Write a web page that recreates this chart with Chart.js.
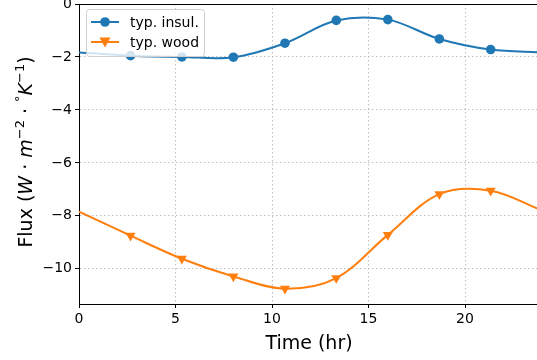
<!DOCTYPE html>
<html>
<head>
<meta charset="utf-8">
<script src="https://cdn.jsdelivr.net/npm/chart.js@4/dist/chart.umd.min.js"></script>
<style>
  body { margin: 0; background: #fff; }
  #wrap { width: 537px; height: 360px; }
</style>
</head>
<body>
<div id="wrap"><canvas id="flux" width="537" height="360"></canvas></div>
<script>
// hours; first and last points are the curve ends (no marker)
var hours = [0, 2.67, 5.33, 8, 10.67, 13.33, 16, 18.67, 21.33, 24];
var insul = [-1.83, -1.95, -2.0, -2.01, -1.48, -0.62, -0.59, -1.32, -1.72, -1.83];
var wood = [-7.84, -8.75, -9.62, -10.29, -10.75, -10.35, -8.72, -7.18, -7.05, -7.8];
var xTicks = [0, 5, 10, 15, 20];
var yTicks = [-10, -8, -6, -4, -2, 0];
var names = ['typ. insul.', 'typ. wood'];

var BLUE = '#1f77b4', ORANGE = '#ff7f0e';
var FONT = '"DejaVu Sans", sans-serif';

function pts(ys) {
    return hours.map(function(h, i) { return { x: h, y: ys[i] }; });
}
function radii(r) {
    return hours.map(function(h, i) { return (i == 0 || i == hours.length - 1) ? 0 : r; });
}
function minus(v) { return String(v).replace('-', '\u2212'); }

// draw marker like the legend sample
function marker(ctx, style, x, y, col) {
    ctx.fillStyle = col;
    ctx.beginPath();
    if (style == 'circle') {
        ctx.arc(x, y, 4.8, 0, Math.PI * 2);
    } else {
        ctx.moveTo(x - 5.5, y - 4.5);
        ctx.lineTo(x + 5.5, y - 4.5);
        ctx.lineTo(x, y + 5.5);
        ctx.closePath();
    }
    ctx.fill();
}

var extras = {
    id: 'extras',
    afterDraw: function(chart) {
        var ctx = chart.ctx, a = chart.chartArea;
        ctx.save();
        // top spine
        ctx.strokeStyle = '#000';
        ctx.lineWidth = 1;
        ctx.beginPath();
        ctx.moveTo(a.left, a.top + 0.5);
        ctx.lineTo(a.right, a.top + 0.5);
        ctx.stroke();

        // legend
        var bx = 86.5, by = 9.5, bw = 118, bh = 47;
        ctx.fillStyle = 'rgba(255,255,255,0.8)';
        ctx.strokeStyle = '#d0d0d0';
        ctx.beginPath();
        ctx.roundRect(bx, by, bw, bh, 3);
        ctx.fill();
        ctx.stroke();
        var rows = [[22, BLUE, 'circle'], [42, ORANGE, 'tri']];
        ctx.font = '14px ' + FONT;
        ctx.textBaseline = 'middle';
        rows.forEach(function(r, i) {
            ctx.strokeStyle = r[1];
            ctx.lineWidth = 2;
            ctx.beginPath();
            ctx.moveTo(91, r[0]);
            ctx.lineTo(119, r[0]);
            ctx.stroke();
            marker(ctx, r[2], 105, r[0], r[1]);
            ctx.fillStyle = '#000';
            ctx.fillText(names[i], 130, r[0] + 1);
        });

        // x title
        ctx.font = '19px ' + FONT;
        ctx.textAlign = 'center';
        ctx.textBaseline = 'alphabetic';
        ctx.fillText('Time (hr)', 309, 349);

        // y title with italics and superscripts
        var parts = [
            ['Flux (', 'n'], ['W', 'i'], [' \u00b7 ', 'n'], ['m', 'i'], ['\u22122', 's'],
            [' \u00b7 ', 'n'], ['\u00b0', 's'], ['K', 'i'], ['\u22121', 's'], [')', 'n']
        ];
        function fnt(k) {
            if (k == 'i') return 'italic 19px ' + FONT;
            if (k == 's') return '13px ' + FONT;
            return '19px ' + FONT;
        }
        var total = 0;
        parts.forEach(function(p) { ctx.font = fnt(p[1]); total += ctx.measureText(p[0]).width; });
        ctx.translate(32, 152);
        ctx.rotate(-Math.PI / 2);
        ctx.textAlign = 'left';
        var cx = -total / 2;
        parts.forEach(function(p) {
            ctx.font = fnt(p[1]);
            ctx.fillText(p[0], cx, p[1] == 's' ? -8 : 0);
            cx += ctx.measureText(p[0]).width;
        });
        ctx.restore();
    }
};

var tickFont = { family: FONT, size: 14 };

new Chart(document.getElementById('flux').getContext('2d'), {
    type: 'line',
    data: {
        datasets: [{
            label: names[0],
            data: pts(insul),
            borderColor: BLUE,
            backgroundColor: BLUE,
            borderWidth: 2,
            pointRadius: radii(4.8),
            pointStyle: 'circle',
            pointBorderWidth: 0,
            tension: 0.35
        }, {
            label: names[1],
            data: pts(wood),
            borderColor: ORANGE,
            backgroundColor: ORANGE,
            borderWidth: 2,
            pointRadius: radii(5.8),
            pointStyle: 'triangle',
            pointRotation: 180,
            pointBorderWidth: 0,
            tension: 0.35
        }]
    },
    options: {
        responsive: false,
        animation: false,
        layout: { padding: { top: 4, right: 0, left: 0, bottom: 0 } },
        plugins: { legend: { display: false }, tooltip: { enabled: false } },
        scales: {
            x: {
                type: 'linear',
                min: 0,
                max: 23.73,
                afterBuildTicks: function(s) { s.ticks = xTicks.map(function(v) { return { value: v }; }); },
                afterFit: function(s) { s.height = 56; s.paddingLeft = 0; s.paddingRight = 0; },
                ticks: { color: '#000', font: tickFont, padding: 3, maxRotation: 0, callback: minus },
                grid: { color: '#b0b0b0', lineWidth: 0.8, tickColor: '#000', tickLength: 4, tickWidth: 1 },
                border: { color: '#000', width: 1, dash: [1.5, 2.5] }
            },
            y: {
                min: -11.33,
                max: 0,
                afterBuildTicks: function(s) { s.ticks = yTicks.map(function(v) { return { value: v }; }); },
                afterFit: function(s) { s.width = 79; s.paddingTop = 0; s.paddingBottom = 0; },
                ticks: { color: '#000', font: tickFont, padding: 3, callback: minus },
                grid: { color: '#b0b0b0', lineWidth: 0.8, tickColor: '#000', tickLength: 4, tickWidth: 1 },
                border: { color: '#000', width: 1, dash: [1.5, 2.5] }
            }
        }
    },
    plugins: [extras]
});
</script>
</body>
</html>
